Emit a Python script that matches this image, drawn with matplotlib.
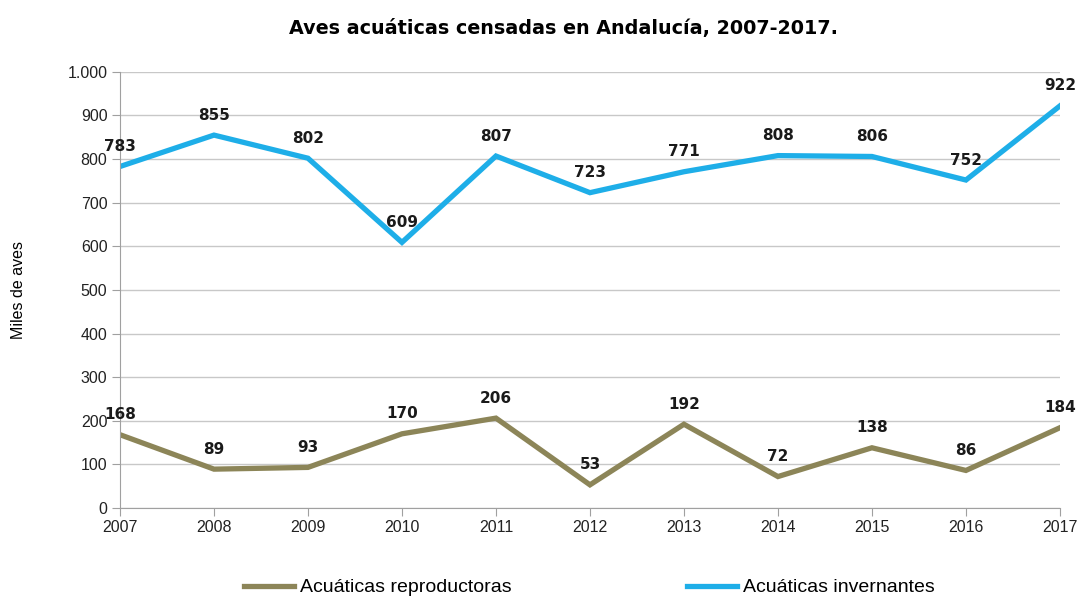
import matplotlib.pyplot as plt
from matplotlib.ticker import FuncFormatter

years = [2007, 2008, 2009, 2010, 2011, 2012, 2013, 2014, 2015, 2016, 2017]
reproductoras = [168, 89, 93, 170, 206, 53, 192, 72, 138, 86, 184]
invernantes = [783, 855, 802, 609, 807, 723, 771, 808, 806, 752, 922]

col_rep = '#8c8558'
col_inv = '#1eaee8'

plt.rcParams['font.family'] = ['Liberation Sans', 'DejaVu Sans']

fig = plt.figure(figsize=(10.81, 5.99), dpi=100)
ax = fig.add_axes([0.111, 0.152, 0.8695, 0.728])

ax.plot(years, reproductoras, color=col_rep, lw=3.8, label='Acuáticas reproductoras',
        solid_joinstyle='miter')
ax.plot(years, invernantes, color=col_inv, lw=3.8, label='Acuáticas invernantes',
        solid_joinstyle='miter')

for serie in (reproductoras, invernantes):
    for x, v in zip(years, serie):
        ax.annotate(str(v), (x, v), xytext=(0, 9), textcoords='offset points',
                    ha='center', va='bottom', fontsize=11, fontweight='bold',
                    family=['DejaVu Sans'], color='#1a1a1a')

ax.set_xlim(2007, 2017)
ax.set_ylim(0, 1000)
ax.set_xticks(years)
ax.set_yticks(range(0, 1001, 100))
ax.yaxis.set_major_formatter(FuncFormatter(lambda v, p: f'{int(v):,}'.replace(',', '.')))
ax.grid(axis='y', color='#c8c8c8', lw=1)
ax.set_axisbelow(True)
for s in ('top', 'right'):
    ax.spines[s].set_visible(False)
for s in ('left', 'bottom'):
    ax.spines[s].set_color('#a0a0a0')
ax.tick_params(direction='out', length=6, color='#a0a0a0', labelsize=11.5,
               labelcolor='#222222', pad=3)
ax.set_ylabel('Miles de aves', fontsize=11.5, labelpad=30)

fig.text(0.521, 0.952, 'Aves acuáticas censadas en Andalucía, 2007-2017.',
         ha='center', va='center', fontsize=13.8, fontweight='bold',
         family=['DejaVu Sans'])

fig.legend(loc='lower center', bbox_to_anchor=(0.545, -0.025), ncol=2, frameon=False,
           fontsize=14, handlelength=2.6, columnspacing=9, handletextpad=0.3)

fig.savefig('out.png', dpi=100)
